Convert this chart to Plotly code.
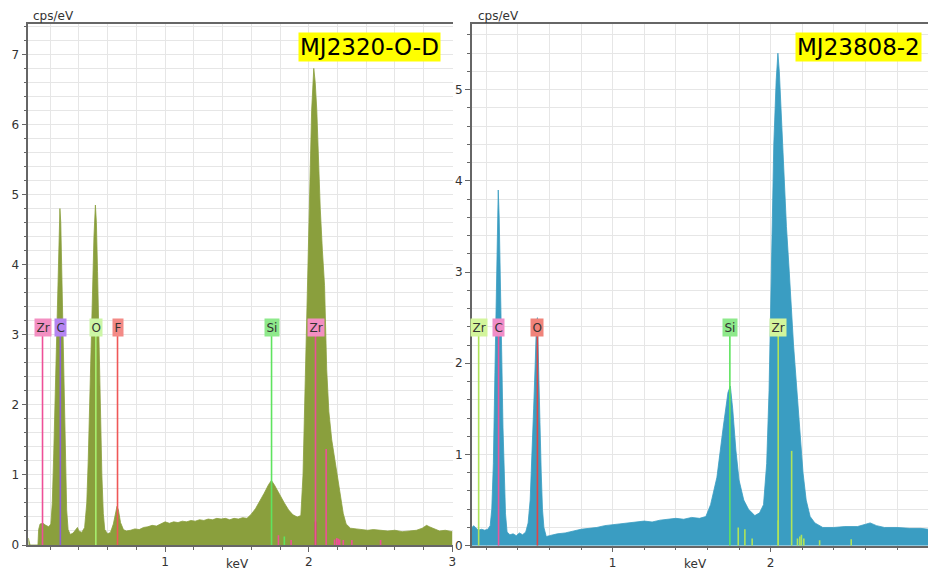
import plotly.graph_objects as go

# ---------------- data: left spectrum (MJ2320-O-D) ----------------
left_kev = [0.048, 0.055, 0.06, 0.115, 0.12, 0.13, 0.15, 0.17, 0.19, 0.205, 0.215, 0.225, 0.235, 0.245,
            0.255, 0.262, 0.268, 0.274, 0.28, 0.288, 0.296, 0.305, 0.315, 0.325, 0.34, 0.36, 0.375, 0.39,
            0.40, 0.42, 0.44, 0.455, 0.465, 0.475, 0.485, 0.495, 0.505, 0.515, 0.522, 0.53, 0.54, 0.55,
            0.56, 0.57, 0.58, 0.60, 0.62, 0.64, 0.655, 0.665, 0.675, 0.69, 0.71, 0.73, 0.76, 0.79, 0.82,
            0.85, 0.88, 0.91, 0.94, 0.97, 1.0, 1.03, 1.06, 1.09, 1.12, 1.15, 1.18, 1.21, 1.24, 1.27, 1.30,
            1.33, 1.36, 1.39, 1.42, 1.45, 1.48, 1.51, 1.54, 1.57, 1.60, 1.63, 1.66, 1.69, 1.72, 1.74, 1.76,
            1.78, 1.80, 1.83, 1.86, 1.89, 1.92, 1.945, 1.96, 1.975, 1.99, 2.005, 2.02, 2.035, 2.045, 2.056,
            2.07, 2.08, 2.095, 2.11, 2.125, 2.14, 2.16, 2.18, 2.20, 2.22, 2.24, 2.26, 2.29, 2.33, 2.37, 2.41,
            2.45, 2.50, 2.55, 2.60, 2.65, 2.70, 2.75, 2.79, 2.82, 2.84, 2.87, 2.91, 2.95, 3.0]
left_cps = [0.10, 0.05, 0.0, 0.0, 0.22, 0.30, 0.31, 0.28, 0.26, 0.30, 0.6, 1.3, 2.2, 3.0,
            3.8, 4.4, 4.8, 4.6, 4.0, 3.0, 2.0, 1.1, 0.5, 0.22, 0.15, 0.17, 0.22, 0.25,
            0.20, 0.18, 0.25, 0.6, 1.2, 2.0, 2.9, 3.7, 4.4, 4.85, 4.6, 3.9, 2.9, 1.9,
            1.0, 0.45, 0.22, 0.16, 0.18, 0.30, 0.48, 0.55, 0.50, 0.32, 0.22, 0.20, 0.21, 0.23, 0.22,
            0.25, 0.26, 0.28, 0.27, 0.30, 0.33, 0.31, 0.33, 0.32, 0.34, 0.33, 0.35, 0.34, 0.36, 0.35, 0.37,
            0.36, 0.38, 0.37, 0.38, 0.36, 0.38, 0.37, 0.39, 0.38, 0.44, 0.52, 0.62, 0.74, 0.86, 0.92, 0.86,
            0.78, 0.70, 0.60, 0.50, 0.43, 0.40, 0.42, 1.0, 2.2, 3.6, 5.0, 6.2, 6.8, 6.6, 6.2,
            5.3, 4.8, 4.2, 3.7, 2.5, 1.9, 1.5, 1.25, 1.0, 0.72, 0.45, 0.30, 0.24, 0.23, 0.22, 0.21,
            0.22, 0.21, 0.20, 0.21, 0.19, 0.20, 0.21, 0.24, 0.28, 0.26, 0.23, 0.20, 0.21, 0.19]

# ---------------- data: right spectrum (MJ23808-2) ----------------
right_kev = [0.108, 0.11, 0.12, 0.135, 0.15, 0.17, 0.19, 0.21, 0.225, 0.235, 0.245, 0.255, 0.263, 0.27,
             0.276, 0.282, 0.29, 0.298, 0.306, 0.314, 0.322, 0.332, 0.35, 0.37, 0.39, 0.41, 0.43, 0.45,
             0.465, 0.478, 0.49, 0.50, 0.51, 0.518, 0.524, 0.532, 0.54, 0.548, 0.556, 0.565, 0.58, 0.60,
             0.65, 0.70, 0.75, 0.80, 0.85, 0.90, 0.95, 1.0, 1.05, 1.10, 1.15, 1.20, 1.25, 1.30, 1.35, 1.40,
             1.45, 1.50, 1.55, 1.59, 1.62, 1.66, 1.70, 1.73, 1.745, 1.76, 1.78, 1.80, 1.83, 1.86, 1.90,
             1.93, 1.955, 1.975, 1.99, 2.005, 2.02, 2.035, 2.046, 2.055, 2.07, 2.085, 2.10, 2.118, 2.13,
             2.145, 2.16, 2.175, 2.19, 2.205, 2.225, 2.25, 2.28, 2.33, 2.40, 2.47, 2.55, 2.60, 2.63, 2.67,
             2.72, 2.80, 2.88, 2.95, 3.0]
right_cps = [0.0, 0.20, 0.22, 0.19, 0.17, 0.18, 0.17, 0.18, 0.22, 0.40, 0.9, 1.9, 2.8, 3.5,
             3.9, 3.6, 3.0, 2.1, 1.3, 0.7, 0.35, 0.15, 0.12, 0.13, 0.11, 0.14, 0.12, 0.15,
             0.25, 0.5, 0.95, 1.5, 2.0, 2.45, 2.5, 2.05, 1.35, 0.8, 0.4, 0.2, 0.10, 0.11,
             0.13, 0.14, 0.16, 0.18, 0.19, 0.20, 0.22, 0.23, 0.24, 0.25, 0.26, 0.27, 0.26, 0.28, 0.29, 0.30,
             0.29, 0.31, 0.30, 0.32, 0.45, 0.75, 1.3, 1.68, 1.75, 1.5, 1.05, 0.72, 0.50, 0.40, 0.33,
             0.36, 0.45, 0.9, 1.7, 3.0, 4.4, 5.1, 5.4, 5.2, 4.6, 4.0, 3.5, 3.0, 2.6,
             2.2, 1.85, 1.5, 1.1, 0.8, 0.5, 0.32, 0.25, 0.20, 0.20, 0.21, 0.21, 0.23, 0.25, 0.22,
             0.20, 0.20, 0.19, 0.19, 0.18]

# ---------------- element markers ----------------
left_el = ["Zr", "C", "O", "F", "Si", "Zr"]
left_el_kev = [0.147, 0.271, 0.518, 0.669, 1.741, 2.047]
left_el_line = ["#ee4f98", "#8e5fd8", "#a6ef6e", "#ef5757", "#5fe35f", "#ee4f98"]
left_el_box = ["#f38fc2", "#b585f2", "#ccf6a6", "#f38a86", "#8ee98b", "#f38fc2"]
left_minor_kev = [2.121, 2.047, 1.789, 1.83, 1.877, 2.18, 2.195, 2.205, 2.215, 2.24, 2.30, 2.50]
left_minor_h = [1.37, 0.33, 0.14, 0.12, 0.07, 0.08, 0.10, 0.09, 0.08, 0.07, 0.07, 0.07]
left_minor_col = ["#ee4f98", "#d8186e", "#ee4f98", "#5fe35f", "#ee4f98", "#ee4f98", "#ee4f98",
                  "#ee4f98", "#ee4f98", "#ee4f98", "#ee4f98", "#ee4f98"]

right_el = ["Zr", "C", "O", "Si", "Zr"]
right_el_kev = [0.152, 0.278, 0.524, 1.742, 2.048]
right_el_line = ["#afe45a", "#e8559e", "#e04545", "#5fe35f", "#afe45a"]
right_el_box = ["#d3f59c", "#f08dc8", "#f0837a", "#8ee98b", "#d3f59c"]
right_minor_kev = [2.133, 2.048, 1.795, 1.837, 1.883, 2.17, 2.185, 2.195, 2.21, 2.31, 2.51]
right_minor_h = [1.04, 0.28, 0.20, 0.18, 0.08, 0.08, 0.10, 0.12, 0.08, 0.06, 0.07]
right_minor_col = ["#afe45a"] * 11

left_title = "MJ2320-O-D"
right_title = "MJ23808-2"
unit_y = "cps/eV"
unit_x = "keV"

W, H = 928, 571
LEFT_FILL = "#8a9f3d"
RIGHT_FILL = "#3a9dc2"
GRID = "#e6e6e6"
AXC = "#666666"
FONT = "DejaVu Sans"

fig = go.Figure()
fig.add_trace(go.Scatter(x=left_kev, y=left_cps, mode="lines", fill="tozeroy",
                         line=dict(color=LEFT_FILL, width=0.8), fillcolor=LEFT_FILL,
                         xaxis="x", yaxis="y", hoverinfo="skip", showlegend=False))
fig.add_trace(go.Scatter(x=right_kev, y=right_cps, mode="lines", fill="tozeroy",
                         line=dict(color=RIGHT_FILL, width=0.8), fillcolor=RIGHT_FILL,
                         xaxis="x2", yaxis="y2", hoverinfo="skip", showlegend=False))

shapes = []
annotations = []

def add_markers(xr, yr, names, kev, lcol, bcol, top, label_y, mk, mh, mc):
    for k, h, c in zip(mk, mh, mc):
        shapes.append(dict(type="line", xref=xr, yref=yr, x0=k, x1=k, y0=0, y1=h,
                           line=dict(color=c, width=1.6)))
    for n, k, lc, bc in zip(names, kev, lcol, bcol):
        shapes.append(dict(type="line", xref=xr, yref=yr, x0=k, x1=k, y0=0, y1=top,
                           line=dict(color=lc, width=1.6)))
        annotations.append(dict(x=k, y=label_y, xref=xr, yref=yr, text=n, showarrow=False,
                                bgcolor=bc, borderpad=1.5, xanchor="center", yanchor="middle",
                                font=dict(family=FONT, size=12, color="#333333")))

add_markers("x", "y", left_el, left_el_kev, left_el_line, left_el_box, 3.0, 3.1,
            left_minor_kev, left_minor_h, left_minor_col)
add_markers("x2", "y2", right_el, right_el_kev, right_el_line, right_el_box, 2.31, 2.39,
            right_minor_kev, right_minor_h, right_minor_col)

# sample titles
annotations.append(dict(x=2.424, y=7.10, xref="x", yref="y", text=left_title, showarrow=False,
                        bgcolor="#ffff00", borderpad=1, xanchor="center", yanchor="middle",
                        font=dict(family=FONT, size=23, color="#000000")))
annotations.append(dict(x=2.556, y=5.47, xref="x2", yref="y2", text=right_title, showarrow=False,
                        bgcolor="#ffff00", borderpad=1, xanchor="center", yanchor="middle",
                        font=dict(family=FONT, size=23, color="#000000")))

# unit labels
for xp, yp, t in [(31, 16, unit_y), (476, 16, unit_y), (237, 564, unit_x), (695, 564, unit_x)]:
    annotations.append(dict(x=xp / W, y=1 - yp / H, xref="paper", yref="paper", text=t,
                            showarrow=False, xanchor="left" if t == unit_y else "center",
                            yanchor="middle", font=dict(family=FONT, size=12, color="#333333")))

def xax(domain, rng, anchor):
    return dict(domain=domain, range=rng, anchor=anchor, tickvals=[1, 2, 3], automargin=False,
                showgrid=True, gridcolor=GRID, gridwidth=1, zeroline=False,
                showline=True, linecolor=AXC, linewidth=1.5, mirror=True,
                ticks="outside", ticklen=5, tickcolor=AXC,
                tickfont=dict(family=FONT, size=12, color="#333333"),
                minor=dict(dtick=0.2, tick0=0, showgrid=True, gridcolor=GRID,
                           ticks="outside", ticklen=3, tickcolor=AXC))

def yax(domain, rng, anchor):
    return dict(domain=domain, range=rng, anchor=anchor, dtick=1, tick0=0, automargin=False,
                showgrid=True, gridcolor=GRID, gridwidth=1, zeroline=False,
                showline=True, linecolor=AXC, linewidth=1.5, mirror=False,
                ticks="outside", ticklen=5, tickcolor=AXC,
                tickfont=dict(family=FONT, size=12, color="#333333"),
                minor=dict(dtick=0.2, tick0=0, showgrid=True, gridcolor=GRID,
                           ticks="outside", ticklen=3, tickcolor=AXC))

fig.update_layout(
    width=W, height=H, margin=dict(l=0, r=0, t=0, b=0, pad=0, autoexpand=False),
    paper_bgcolor="white", plot_bgcolor="white", showlegend=False,
    xaxis=xax([28.3 / W, 452.5 / W], [0.048, 3.0005], "y"),
    yaxis=yax([1 - 545 / H, 1 - 23.5 / H], [0, 7.44], "x"),
    xaxis2=xax([471.7 / W, 1.0], [0.108, 2.996], "y2"),
    yaxis2=yax([1 - 545.7 / H, 1 - 24 / H], [0, 5.72], "x2"),
    shapes=shapes, annotations=annotations,
)

fig.write_html("out.html", config={"displayModeBar": False},
               post_script="document.body.style.margin='0px';document.body.style.overflow='hidden';")
